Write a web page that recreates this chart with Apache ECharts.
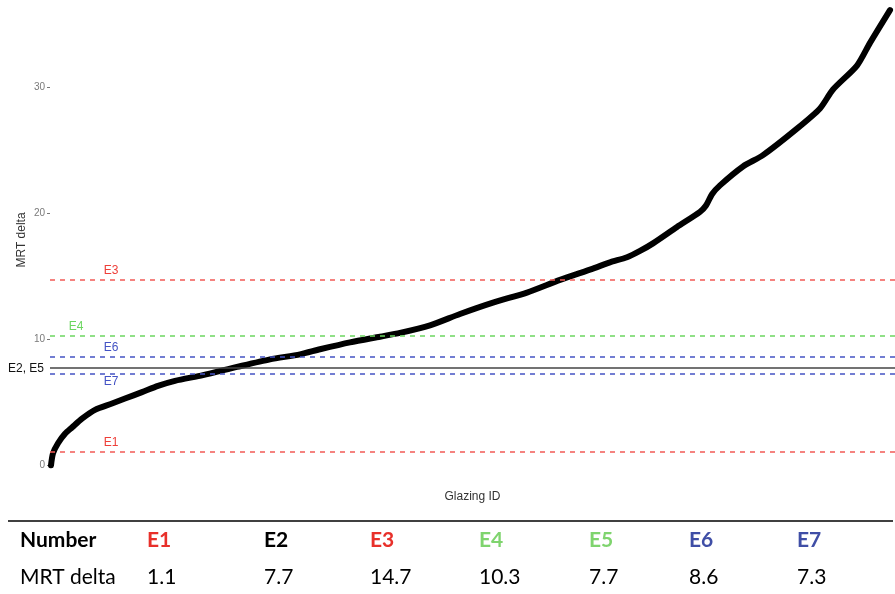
<!DOCTYPE html>
<html>
<head>
<meta charset="utf-8">
<script src="https://cdn.jsdelivr.net/npm/echarts@6/dist/echarts.min.js"></script>
<style>
  html, body { margin: 0; padding: 0; background: #fff; }
  #main { width: 895px; height: 594px; }
</style>
</head>
<body>
<div id="main"></div>
<script>
// glazing rank (sorted) and MRT delta
var glazingId = [1, 3, 8, 15, 22, 32, 45, 62, 75, 92, 108, 125, 153, 187, 220, 250, 270, 300, 330, 350, 380, 410, 443, 477, 510, 543, 560, 577, 590, 603, 627, 650, 656, 662, 670, 693, 713, 747, 770, 783, 807, 820, 840];
var mrtDelta = [0.0, 0.95, 1.75, 2.5, 3.0, 3.7, 4.4, 4.9, 5.3, 5.8, 6.3, 6.7, 7.15, 7.8, 8.4, 8.8, 9.2, 9.75, 10.2, 10.5, 11.1, 12.0, 12.9, 13.7, 14.7, 15.6, 16.1, 16.5, 17.0, 17.6, 18.9, 20.1, 20.6, 21.5, 22.2, 23.7, 24.6, 26.7, 28.3, 29.8, 31.7, 33.5, 36.1];

// reference glazings
var refNames = ['E1', 'E2', 'E3', 'E4', 'E5', 'E6', 'E7'];
var refValues = [1.1, 7.7, 14.7, 10.3, 7.7, 8.6, 7.3];
var refTextColors = ['#e8302a', '#000000', '#e8302a', '#7fd46e', '#7fd46e', '#3f4ea6', '#3f4ea6'];
var refLineColors = ['#f25a55', '#444444', '#f25a55', '#6cd660', '#6cd660', '#4453c4', '#4453c4'];
var refLabelColors = ['#ee3e38', '#111111', '#ee3e38', '#6cd660', '#6cd660', '#4453c4', '#4453c4'];

var yTicks = [0, 10, 20, 30];

var chart = echarts.init(document.getElementById('main'));

var curve = [];
for (var i = 0; i < glazingId.length; i++) {
    curve.push([glazingId[i], mrtDelta[i]]);
}

// horizontal reference lines (E2 and E5 share one solid line)
var lines = [];
var labels = [];
for (var k = 0; k < refNames.length; k++) {
    if (refNames[k] == 'E5') continue;
    if (refNames[k] == 'E2') {
        lines.push({
            yAxis: refValues[k],
            lineStyle: { color: refLineColors[k], type: 'solid', width: 1.5 },
            label: { show: true, position: 'start', formatter: 'E2, E5', color: '#111', fontSize: 12, distance: 6 }
        });
        continue;
    }
    lines.push({
        yAxis: refValues[k],
        lineStyle: { color: refLineColors[k], type: [5, 5], width: 1.5 }
    });
    labels.push({
        coord: [refNames[k] == 'E4' ? 26 : 61, refValues[k]],
        label: {
            formatter: refNames[k],
            color: refLabelColors[k],
            offset: [0, refNames[k] == 'E7' ? 8 : -9]
        }
    });
}

// y axis title + table under the chart
var colX = [147, 264, 370, 479, 589, 689, 797];
var table = [
    { type: 'text', x: 22, y: 240, rotation: Math.PI / 2,
      style: { x: 0, y: 0, text: 'MRT delta', font: '12px "Liberation Sans"', fill: '#333', align: 'center', verticalAlign: 'middle' } },
    { type: 'line', shape: { x1: 8, y1: 521, x2: 893, y2: 521 }, style: { stroke: '#000', lineWidth: 1.5 } },
    { type: 'text', style: { x: 20, y: 540, text: 'Number', font: 'bold 21px Lato', fill: '#000', verticalAlign: 'middle' } },
    { type: 'text', style: { x: 20, y: 577, text: 'MRT delta', font: '21px Lato', fill: '#000', verticalAlign: 'middle' } }
];
for (var j = 0; j < refNames.length; j++) {
    table.push({ type: 'text', style: { x: colX[j], y: 540, text: refNames[j], font: 'bold 21px Lato', fill: refTextColors[j], verticalAlign: 'middle' } });
    table.push({ type: 'text', style: { x: colX[j], y: 577, text: String(refValues[j]), font: '21px Lato', fill: '#000', verticalAlign: 'middle' } });
}

chart.setOption({
    backgroundColor: '#fff',
    animation: false,
    grid: { left: 50, right: 0, top: 0, bottom: 106 },
    xAxis: {
        type: 'value',
        min: 0,
        max: 845,
        name: 'Glazing ID',
        nameLocation: 'middle',
        nameGap: 3,
        nameTextStyle: { color: '#333', fontSize: 12, fontFamily: 'Liberation Sans', verticalAlign: 'top' },
        axisLine: { show: false },
        axisTick: { show: false },
        axisLabel: { show: false },
        splitLine: { show: false }
    },
    yAxis: {
        type: 'value',
        min: -1.8,
        max: 36.9,
        axisLine: { show: false },
        axisTick: { show: true, length: 3, customValues: yTicks, lineStyle: { color: '#777' } },
        axisLabel: { customValues: yTicks, color: '#7a7a7a', fontSize: 10, margin: 5, fontFamily: 'Liberation Sans' },
        splitLine: { show: false }
    },
    series: [{
        type: 'line',
        data: curve,
        smooth: 0.25,
        showSymbol: false,
        z: 1,
        lineStyle: { color: '#000', width: 6, cap: 'round', join: 'round' },
        markLine: {
            silent: true,
            z: 3,
            symbol: ['none', 'none'],
            label: { show: false },
            data: lines
        },
        markPoint: {
            silent: true,
            symbol: 'circle',
            symbolSize: 0,
            label: { show: true, position: 'inside', fontSize: 12, fontFamily: 'Liberation Sans' },
            data: labels
        }
    }],
    graphic: table
});
</script>
</body>
</html>
